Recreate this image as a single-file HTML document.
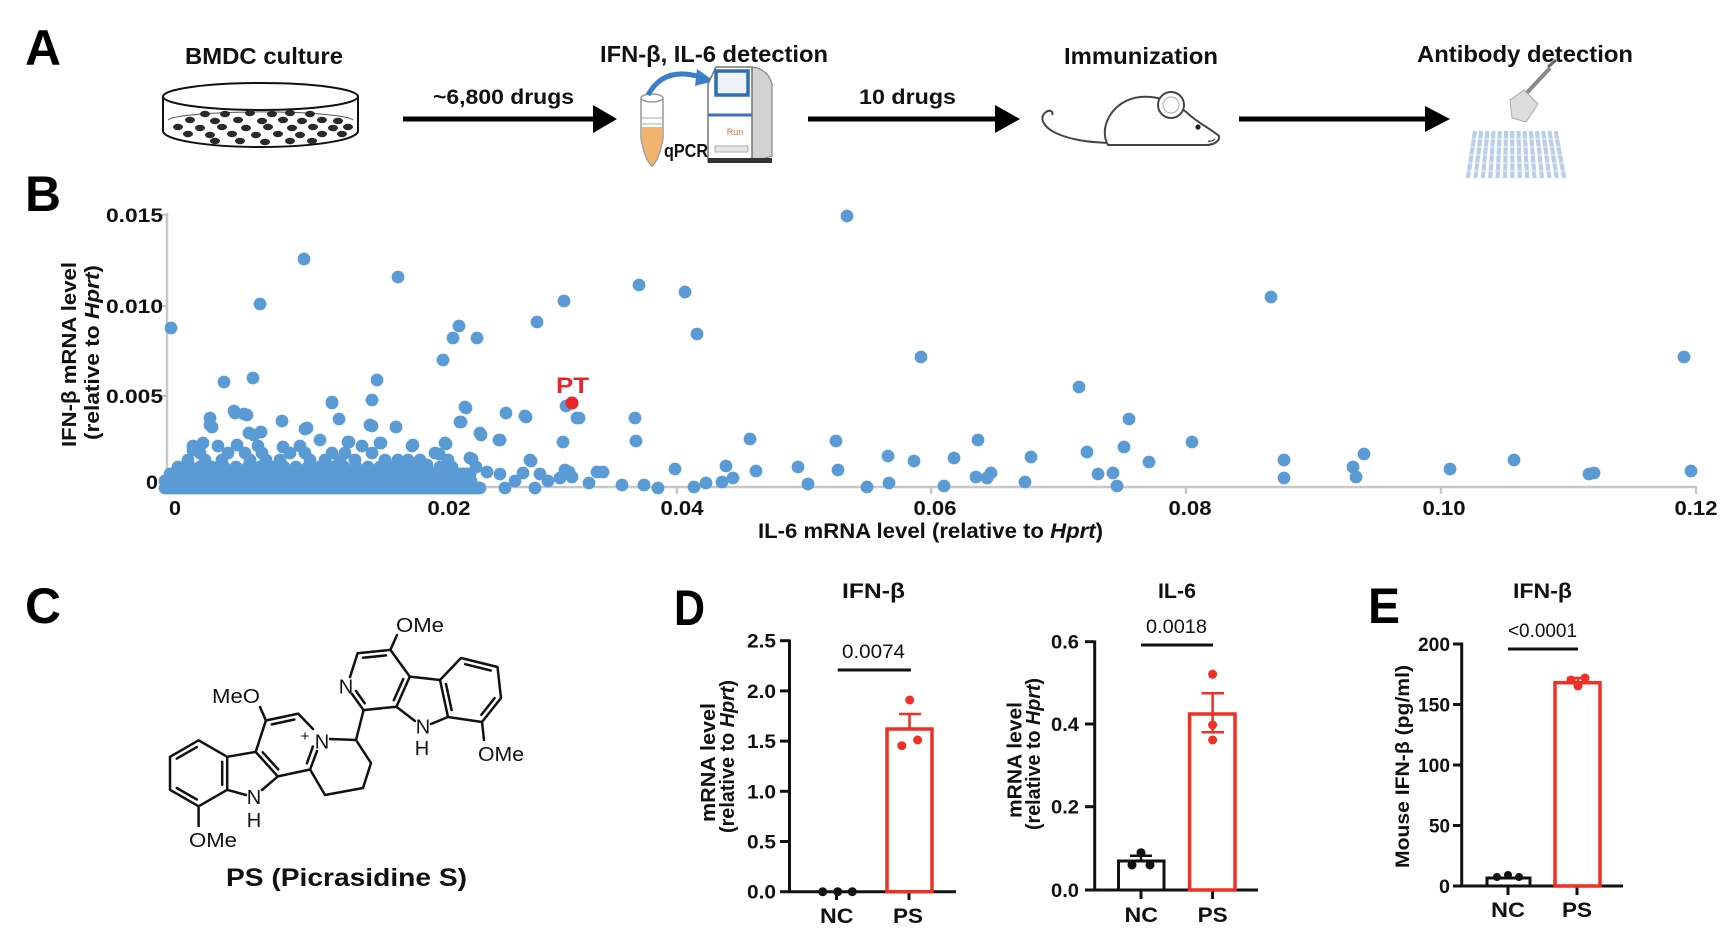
<!DOCTYPE html>
<html><head><meta charset="utf-8"><style>
html,body{margin:0;padding:0;background:#fff;}
svg{display:block;}
text{font-family:"Liberation Sans",Arial,sans-serif;}
.b{font-weight:bold;}
</style></head><body>
<svg width="1731" height="929" viewBox="0 0 1731 929" xmlns="http://www.w3.org/2000/svg">
<rect width="1731" height="929" fill="#fff"/>

<!-- ===== Panel letters ===== -->
<g class="b" font-size="50" fill="#000">
<text x="25" y="65" textLength="36" lengthAdjust="spacingAndGlyphs">A</text>
<text x="25" y="211" textLength="36" lengthAdjust="spacingAndGlyphs">B</text>
<text x="25" y="623" textLength="36" lengthAdjust="spacingAndGlyphs">C</text>
<text x="674" y="625" textLength="31" lengthAdjust="spacingAndGlyphs">D</text>
<text x="1368" y="623" textLength="32" lengthAdjust="spacingAndGlyphs">E</text>
</g>

<!-- ===== Panel A ===== -->
<g class="b" font-size="23" fill="#111">
<text x="185" y="64" textLength="158" lengthAdjust="spacingAndGlyphs">BMDC culture</text>
<text x="600" y="62" textLength="228" lengthAdjust="spacingAndGlyphs">IFN-β, IL-6 detection</text>
<text x="1064" y="64" textLength="154" lengthAdjust="spacingAndGlyphs">Immunization</text>
<text x="1417" y="62" textLength="216" lengthAdjust="spacingAndGlyphs">Antibody detection</text>
</g>
<g class="b" font-size="21" fill="#111">
<text x="433" y="104" textLength="141" lengthAdjust="spacingAndGlyphs">~6,800 drugs</text>
<text x="859" y="104" textLength="97" lengthAdjust="spacingAndGlyphs">10 drugs</text>
</g>
<!-- arrows -->
<g stroke="#000" stroke-width="5">
<line x1="403" y1="119" x2="597" y2="119"/>
<line x1="808" y1="119" x2="997" y2="119"/>
<line x1="1239" y1="119" x2="1427" y2="119"/>
</g>
<g fill="#000">
<polygon points="593,105 617,119 593,133"/>
<polygon points="995,105 1020,119 995,133"/>
<polygon points="1425,106 1450,119 1425,132"/>
</g>
<!-- petri dish -->
<g fill="none" stroke="#111" stroke-width="2">
<ellipse cx="260.5" cy="96.5" rx="97.5" ry="13.5" fill="#fff"/>
<line x1="163" y1="96.5" x2="163" y2="131"/>
<line x1="358" y1="96.5" x2="358" y2="131"/>
<path d="M163 131 A97.5 16 0 0 0 358 131"/>
<path d="M168 120 A93 9 0 0 1 353 120" stroke-width="1" stroke="#555"/>
</g>
<g fill="#2a2a2a">
<ellipse cx="205" cy="114" rx="5" ry="3.2"/><ellipse cx="225" cy="114" rx="5" ry="3.2"/><ellipse cx="250" cy="113" rx="5" ry="3.2"/><ellipse cx="272" cy="114" rx="5" ry="3.2"/><ellipse cx="290" cy="113" rx="5" ry="3.2"/><ellipse cx="310" cy="114" rx="5" ry="3.2"/>
<ellipse cx="190" cy="120" rx="5" ry="3.2"/><ellipse cx="215" cy="121" rx="5" ry="3.2"/><ellipse cx="238" cy="120" rx="5" ry="3.2"/><ellipse cx="262" cy="121" rx="5" ry="3.2"/><ellipse cx="283" cy="120" rx="5" ry="3.2"/><ellipse cx="302" cy="121" rx="5" ry="3.2"/><ellipse cx="322" cy="120" rx="5" ry="3.2"/><ellipse cx="338" cy="121" rx="5" ry="3.2"/>
<ellipse cx="178" cy="127" rx="5" ry="3.2"/><ellipse cx="200" cy="128" rx="5" ry="3.2"/><ellipse cx="222" cy="127" rx="5" ry="3.2"/><ellipse cx="246" cy="128" rx="5" ry="3.2"/><ellipse cx="268" cy="127" rx="5" ry="3.2"/><ellipse cx="292" cy="128" rx="5" ry="3.2"/><ellipse cx="313" cy="127" rx="5" ry="3.2"/><ellipse cx="333" cy="128" rx="5" ry="3.2"/><ellipse cx="348" cy="127" rx="5" ry="3.2"/>
<ellipse cx="188" cy="134" rx="5" ry="3.2"/><ellipse cx="210" cy="135" rx="5" ry="3.2"/><ellipse cx="232" cy="134" rx="5" ry="3.2"/><ellipse cx="256" cy="135" rx="5" ry="3.2"/><ellipse cx="278" cy="134" rx="5" ry="3.2"/><ellipse cx="300" cy="135" rx="5" ry="3.2"/><ellipse cx="322" cy="134" rx="5" ry="3.2"/><ellipse cx="342" cy="134" rx="5" ry="3.2"/>
<ellipse cx="215" cy="141" rx="5" ry="3.2"/><ellipse cx="240" cy="141" rx="5" ry="3.2"/><ellipse cx="265" cy="142" rx="5" ry="3.2"/><ellipse cx="290" cy="141" rx="5" ry="3.2"/><ellipse cx="312" cy="141" rx="5" ry="3.2"/>
</g>
<!-- tube -->
<path d="M641 98 L641 138 Q645 160 652 166 Q659 160 663 138 L663 98" fill="#fff" stroke="#999" stroke-width="1.5"/>
<path d="M641.8 127 L662.2 127 L662.2 138 Q659 159 652 165 Q645 159 641.8 138 Z" fill="#f2b36f"/>
<line x1="641" y1="118" x2="663" y2="118" stroke="#aaa" stroke-width="1"/>
<line x1="641" y1="124" x2="663" y2="124" stroke="#aaa" stroke-width="1"/>
<ellipse cx="652" cy="98" rx="11" ry="4" fill="#fff" stroke="#999" stroke-width="1.5"/>
<path d="M648 95 Q664 66 700 77" fill="none" stroke="#3b7fca" stroke-width="5"/>
<polygon points="697,69 714,81 695,86" fill="#3b7fca"/>
<!-- machine -->
<path d="M752 67 Q768 69 772 84 L772 156 L752 162 Z" fill="#d2d2d2" stroke="#888" stroke-width="1.2"/>
<path d="M708 84 L716 67 L752 67 L752 162 L708 162 Z" fill="#fff" stroke="#777" stroke-width="1.5"/>
<rect x="716" y="71" width="32" height="24" fill="#eef3fa" stroke="#2f6db5" stroke-width="3.5"/>
<line x1="708" y1="115" x2="752" y2="115" stroke="#3c70b8" stroke-width="3"/>
<text x="735" y="135" font-size="9" fill="#e07030" text-anchor="middle">Run</text>
<rect x="715" y="146" width="33" height="6" fill="#e6e6e6" stroke="#aaa" stroke-width="1"/>
<rect x="708" y="158" width="64" height="5" fill="#333"/>
<text x="664" y="157" class="b" font-size="18" fill="#111" textLength="44" lengthAdjust="spacingAndGlyphs">qPCR</text>
<!-- mouse -->
<g fill="#fff" stroke="#444" stroke-width="2">
<path d="M1108 143 C1088 142 1072 140 1058 134 C1044 128 1038 118 1046 112 C1050 109 1054 112 1052 115" fill="none"/>
<path d="M1108 145 C1098 128 1112 100 1140 97 C1160 95 1178 104 1192 117 C1202 125 1212 130 1219 136 C1220 141 1214 145 1206 145 Z"/>
<circle cx="1171" cy="105" r="13"/>
<circle cx="1171" cy="105" r="8" stroke="#bbb" stroke-width="1.2"/>
<path d="M1208 141 q4 1 7 -2" fill="none" stroke-width="1.2"/>
</g>
<circle cx="1198" cy="127" r="2.6" fill="#222"/>
<!-- pipette -->
<line x1="1522" y1="98" x2="1550" y2="68" stroke="#8a8a8a" stroke-width="4"/>
<line x1="1548" y1="67" x2="1556" y2="60" stroke="#666" stroke-width="3"/>
<polygon points="1510,100 1524,90 1538,104 1526,122 1512,118" fill="#dcdcdc" stroke="#aaa" stroke-width="1"/>
<!-- plate -->
<g stroke="#b7cfea" stroke-width="4.2">
<line x1="1475" y1="131" x2="1468" y2="178"/><line x1="1481.2" y1="131" x2="1475.4" y2="178"/><line x1="1487.4" y1="131" x2="1482.8" y2="178"/><line x1="1493.6" y1="131" x2="1490.2" y2="178"/><line x1="1499.8" y1="131" x2="1497.6" y2="178"/><line x1="1506" y1="131" x2="1505" y2="178"/><line x1="1512.2" y1="131" x2="1512.4" y2="178"/><line x1="1518.4" y1="131" x2="1519.8" y2="178"/><line x1="1524.6" y1="131" x2="1527.2" y2="178"/><line x1="1530.8" y1="131" x2="1534.6" y2="178"/><line x1="1537" y1="131" x2="1542" y2="178"/><line x1="1543.2" y1="131" x2="1549.4" y2="178"/><line x1="1549.4" y1="131" x2="1556.8" y2="178"/><line x1="1555.6" y1="131" x2="1564.2" y2="178"/>
</g>
<g stroke="#fff" stroke-width="1.2" opacity="0.6">
<line x1="1460" y1="139" x2="1570" y2="139"/><line x1="1460" y1="147" x2="1570" y2="147"/><line x1="1460" y1="155" x2="1570" y2="155"/><line x1="1460" y1="163" x2="1570" y2="163"/><line x1="1460" y1="171" x2="1570" y2="171"/>
</g>

<!-- ===== Panel B ===== -->
<g stroke="#c8c8c8" stroke-width="2.5" fill="none">
<line x1="167" y1="213" x2="167" y2="488"/>
<line x1="166" y1="487" x2="1697" y2="487"/>
<line x1="160" y1="215" x2="167" y2="215"/><line x1="160" y1="306" x2="167" y2="306"/><line x1="160" y1="396" x2="167" y2="396"/><line x1="160" y1="487" x2="167" y2="487"/>
<line x1="422" y1="487" x2="422" y2="494"/><line x1="677" y1="487" x2="677" y2="494"/><line x1="931" y1="487" x2="931" y2="494"/><line x1="1186" y1="487" x2="1186" y2="494"/><line x1="1441" y1="487" x2="1441" y2="494"/><line x1="1696" y1="487" x2="1696" y2="494"/>
</g>
<g class="b" font-size="19" fill="#111">
<text x="106" y="222" textLength="57" lengthAdjust="spacingAndGlyphs">0.015</text>
<text x="106" y="313" textLength="57" lengthAdjust="spacingAndGlyphs">0.010</text>
<text x="106" y="403" textLength="57" lengthAdjust="spacingAndGlyphs">0.005</text>
<text x="146" y="489" textLength="12" lengthAdjust="spacingAndGlyphs">0</text>
</g>
<g class="b" font-size="20" fill="#111">
<text x="169" y="515" textLength="12" lengthAdjust="spacingAndGlyphs">0</text>
<text x="427.5" y="515" textLength="43" lengthAdjust="spacingAndGlyphs">0.02</text>
<text x="660.5" y="515" textLength="43" lengthAdjust="spacingAndGlyphs">0.04</text>
<text x="913.5" y="515" textLength="43" lengthAdjust="spacingAndGlyphs">0.06</text>
<text x="1168.5" y="515" textLength="43" lengthAdjust="spacingAndGlyphs">0.08</text>
<text x="1422.5" y="515" textLength="43" lengthAdjust="spacingAndGlyphs">0.10</text>
<text x="1674.5" y="515" textLength="43" lengthAdjust="spacingAndGlyphs">0.12</text>
</g>
<text x="758" y="538" class="b" font-size="21" fill="#111" textLength="345" lengthAdjust="spacingAndGlyphs">IL-6 mRNA level (relative to <tspan font-style="italic">Hprt</tspan>)</text>
<g class="b" font-size="20" fill="#111">
<text transform="translate(76,354.5) rotate(-90)" x="-92.5" y="0" textLength="185" lengthAdjust="spacingAndGlyphs">IFN-β mRNA level</text>
<text transform="translate(99,352.5) rotate(-90)" x="-87.5" y="0" textLength="175" lengthAdjust="spacingAndGlyphs">(relative to <tspan font-style="italic">Hprt</tspan>)</text>
</g>
<!-- scatter points -->
<path fill="none" stroke="#5b9bd5" stroke-width="12.8" stroke-linecap="round" d="
M847 216h0M304 259h0M398 277h0M260 304h0M171 328h0M564 301h0M639 285h0M685 292h0M697 334h0M537 322h0M459 326h0M453 338h0M477 338h0M443 360h0M224 382h0M253 378h0M377 380h0M332 402h0M372 400h0M466 408h0M566 406h0M579 418h0M506 413h0M526 417h0M635 418h0M636 441h0M563 442h0M500 440h0M481 435h0M461 422h0M396 427h0M381 443h0M372 426h0M339 419h0M307 428h0M282 421h0M234 411h0M244 414h0M210 418h0M212 427h0M261 432h0M254 435h0M750 439h0M836 441h0M675 469h0M726 466h0M756 471h0M798 467h0M838 470h0M808 484h0M867 487h0M603 472h0M569 472h0M531 461h0M472 459h0M412 446h0M446 444h0M439 454h0M349 442h0
M210 425h0M235 413h0M247 415h0M305 429h0M332 403h0M370 425h0M249 433h0M193 450h0M203 443h0M237 445h0M283 447h0M320 440h0M348 442h0M380 443h0M413 445h0M445 443h0M435 453h0M398 460h0M427 465h0M470 458h0M480 433h0M499 440h0M506 413h0M525 416h0M465 407h0M460 422h0M530 460h0M563 442h0M577 418h0M565 470h0M487 472h0M523 473h0M560 478h0M597 472h0
M1271 297h0M921 357h0M1684 357h0M1079 387h0M1129 419h0M978 440h0M1192 442h0M888 456h0M914 461h0M954 458h0M1031 457h0M1087 452h0M1124 447h0M1149 462h0M1284 460h0M1364 454h0M1353 467h0M1450 469h0M1514 460h0M1589 474h0M1594 473h0M1691 471h0M889 483h0M944 486h0M976 477h0M991 473h0M987 478h0M1025 482h0M1098 474h0M1113 473h0M1117 486h0M1284 478h0M1356 477h0
M589 483h0M572 477h0M622 485h0M644 485h0M658 488h0M694 487h0M706 483h0M722 482h0M733 478h0
M193 446h0M218 446h0M258 446h0M300 446h0M362 446h0
M200 453h0M228 453h0M245 453h0M262 453h0M290 453h0M305 453h0M332 453h0M345 453h0M372 453h0
M188 460h0M205 460h0M222 460h0M250 460h0M266 460h0M280 460h0M310 460h0M325 460h0M340 460h0M355 460h0M385 460h0M408 460h0M420 460h0M448 460h0
M178 467h0M190 467h0M200 467h0M212 467h0M224 467h0M236 467h0M248 467h0M260 467h0M272 467h0M284 467h0M296 467h0M308 467h0M320 467h0M332 467h0M344 467h0M356 467h0M368 467h0M380 467h0M392 467h0M404 467h0M416 467h0M440 467h0M452 467h0M476 467h0
M170 474h300M500 474h0M540 474h0
M165 481h306M515 481h0M548 481h0
M165 488h315M505 488h0M535 488h0"/>
<circle cx="572" cy="403" r="6.5" fill="#e8262a"/>
<text x="556" y="393" class="b" font-size="22" fill="#e8262a" textLength="33" lengthAdjust="spacingAndGlyphs">PT</text>

<!-- ===== Panel C: molecule ===== -->
<g fill="none" stroke="#111" stroke-width="2.5" stroke-linejoin="round" stroke-linecap="round">
<path d="M170 756.8 L198.6 740.3 L227.2 756.8 L227.2 789.8 L198.6 806.3 L170 789.8 Z"/>
<path d="M176.8 758.6 L196.8 747.1 M222.2 761.8 L222.2 784.8 M196.8 799.5 L176.8 788"/>
<path d="M198.6 806.3 L198.6 826"/>
<path d="M227.2 756.8 L255.7 751.9 M277.8 776.4 L262 790 M227.2 789.8 L246 795"/>
<path d="M255.7 751.9 L265.9 720.5 L298.2 713.6 L313 729 M317 751 L310.1 769.5 L277.8 776.4 L255.7 751.9"/>
<path d="M271.8 724.4 L294.4 719.5 M312.9 746.5 L306.9 763.3 M278.2 769.4 L262.7 752.3"/>
<path d="M265.9 720.5 L260 707"/>
<path d="M330 739 L356 740 L371 763 L363 788 L325 795 L310.1 769.5"/>
<path d="M356 740 L363.6 710.1"/>
<path d="M363.6 710.1 L352 694 M350 677 L357.6 653.3 L390.4 649.9 L409.8 676.6 L396.4 706.7 L363.6 710.1"/>
<path d="M363 657.8 L386 655.4 M364.7 703.2 L356 691 M403.2 679.1 L393.8 700.2"/>
<path d="M390.4 649.9 L397 635"/>
<path d="M409.8 676.6 L440 680 M448 717 L431 724 M396.4 706.7 L415 721"/>
<path d="M440 680 L461 658 L497.5 667 L501 698 L482 722 L448 717 Z"/>
<path d="M465.2 664.2 L490.7 670.5 M494.6 698.1 L481.3 714.9 M451.6 710 L446 684.1"/>
<path d="M482 722 L484 740"/>
</g>
<g font-size="20" fill="#111">
<text x="189" y="847" textLength="48" lengthAdjust="spacingAndGlyphs">OMe</text>
<text x="212" y="703" textLength="48" lengthAdjust="spacingAndGlyphs">MeO</text>
<text x="396" y="632" textLength="48" lengthAdjust="spacingAndGlyphs">OMe</text>
<text x="478" y="761" textLength="46" lengthAdjust="spacingAndGlyphs">OMe</text>
<text x="254" y="804" text-anchor="middle">N</text>
<text x="254" y="827" text-anchor="middle">H</text>
<text x="322" y="748.5" text-anchor="middle">N</text>
<text x="346" y="693.5" text-anchor="middle">N</text>
<text x="423" y="733.5" text-anchor="middle">N</text>
<text x="422" y="755" text-anchor="middle">H</text>
<text x="305" y="741" text-anchor="middle" font-size="15">+</text>
</g>
<text x="226" y="886" class="b" font-size="25" fill="#111" textLength="241" lengthAdjust="spacingAndGlyphs">PS (Picrasidine S)</text>

<!-- ===== Panel D ===== -->
<g class="b" font-size="21" fill="#111">
<text x="842" y="598" textLength="63" lengthAdjust="spacingAndGlyphs">IFN-β</text>
<text x="1158" y="598" textLength="38" lengthAdjust="spacingAndGlyphs">IL-6</text>
<text x="1513" y="598" textLength="59" lengthAdjust="spacingAndGlyphs">IFN-β</text>
</g>
<g font-size="19" fill="#111">
<text x="842" y="658" textLength="63" lengthAdjust="spacingAndGlyphs">0.0074</text>
<text x="1146" y="633" textLength="61" lengthAdjust="spacingAndGlyphs">0.0018</text>
<text x="1508" y="637" textLength="69" lengthAdjust="spacingAndGlyphs">&lt;0.0001</text>
</g>
<g stroke="#111" stroke-width="3">
<line x1="837.7" y1="670" x2="910.9" y2="670"/>
<line x1="1141" y1="645" x2="1213" y2="645"/>
<line x1="1508" y1="649" x2="1578" y2="649"/>
</g>
<!-- D1 axes -->
<g stroke="#111" stroke-width="3" fill="none">
<line x1="789.5" y1="639.5" x2="789.5" y2="893"/>
<line x1="780" y1="891.7" x2="956" y2="891.7"/>
<line x1="780" y1="640.7" x2="789.5" y2="640.7"/><line x1="780" y1="690.9" x2="789.5" y2="690.9"/><line x1="780" y1="741.1" x2="789.5" y2="741.1"/><line x1="780" y1="791.3" x2="789.5" y2="791.3"/><line x1="780" y1="841.5" x2="789.5" y2="841.5"/>
<line x1="836.5" y1="891.7" x2="836.5" y2="900"/><line x1="909" y1="891.7" x2="909" y2="900"/>
</g>
<g class="b" font-size="19" fill="#111">
<text x="747" y="647.7" textLength="29" lengthAdjust="spacingAndGlyphs">2.5</text>
<text x="747" y="697.9" textLength="29" lengthAdjust="spacingAndGlyphs">2.0</text>
<text x="747" y="748.1" textLength="29" lengthAdjust="spacingAndGlyphs">1.5</text>
<text x="747" y="798.3" textLength="29" lengthAdjust="spacingAndGlyphs">1.0</text>
<text x="747" y="848.5" textLength="29" lengthAdjust="spacingAndGlyphs">0.5</text>
<text x="747" y="898.7" textLength="29" lengthAdjust="spacingAndGlyphs">0.0</text>
</g>
<rect x="887" y="729" width="45" height="162.7" fill="#fff" stroke="#ee3124" stroke-width="3.5"/>
<g stroke="#ee3124" stroke-width="2.5">
<line x1="909.5" y1="729" x2="909.5" y2="714"/><line x1="899" y1="714" x2="921" y2="714"/>
</g>
<g fill="#ee3124"><circle cx="909.7" cy="700" r="4.5"/><circle cx="901.8" cy="745.7" r="4.5"/><circle cx="917.6" cy="740" r="4.5"/></g>
<g fill="#111"><circle cx="822.7" cy="891.7" r="4.5"/><circle cx="837.7" cy="891.7" r="4.5"/><circle cx="852.3" cy="891.7" r="4.5"/></g>
<g class="b" font-size="21" fill="#111">
<text x="820" y="923" textLength="33.5" lengthAdjust="spacingAndGlyphs">NC</text>
<text x="893" y="923" textLength="30" lengthAdjust="spacingAndGlyphs">PS</text>
<text x="1124.5" y="922" textLength="33.5" lengthAdjust="spacingAndGlyphs">NC</text>
<text x="1197.6" y="922" textLength="30" lengthAdjust="spacingAndGlyphs">PS</text>
<text x="1491" y="917" textLength="34" lengthAdjust="spacingAndGlyphs">NC</text>
<text x="1562" y="917" textLength="30" lengthAdjust="spacingAndGlyphs">PS</text>
</g>
<g class="b" font-size="20" fill="#111">
<text transform="translate(715,762.5) rotate(-90)" x="-59.5" y="0" textLength="119" lengthAdjust="spacingAndGlyphs">mRNA level</text>
<text transform="translate(734,756.5) rotate(-90)" x="-76.5" y="0" textLength="153" lengthAdjust="spacingAndGlyphs">(relative to <tspan font-style="italic">Hprt</tspan>)</text>
<text transform="translate(1021.5,760) rotate(-90)" x="-58" y="0" textLength="116" lengthAdjust="spacingAndGlyphs">mRNA level</text>
<text transform="translate(1040,754) rotate(-90)" x="-76" y="0" textLength="152" lengthAdjust="spacingAndGlyphs">(relative to <tspan font-style="italic">Hprt</tspan>)</text>
<text transform="translate(1409,766.5) rotate(-90)" x="-101.5" y="0" font-size="19" textLength="203" lengthAdjust="spacingAndGlyphs">Mouse IFN-β (pg/ml)</text>
</g>
<!-- D2 axes -->
<g stroke="#111" stroke-width="3" fill="none">
<line x1="1094.7" y1="640.5" x2="1094.7" y2="891.5"/>
<line x1="1085" y1="890" x2="1258" y2="890"/>
<line x1="1085" y1="641.7" x2="1094.7" y2="641.7"/><line x1="1085" y1="724" x2="1094.7" y2="724"/><line x1="1085" y1="806.7" x2="1094.7" y2="806.7"/>
<line x1="1141" y1="890" x2="1141" y2="899"/><line x1="1212.6" y1="890" x2="1212.6" y2="899"/>
</g>
<g class="b" font-size="19" fill="#111">
<text x="1051" y="648.7" textLength="28" lengthAdjust="spacingAndGlyphs">0.6</text>
<text x="1051" y="731" textLength="28" lengthAdjust="spacingAndGlyphs">0.4</text>
<text x="1051" y="813.7" textLength="28" lengthAdjust="spacingAndGlyphs">0.2</text>
<text x="1051" y="897" textLength="28" lengthAdjust="spacingAndGlyphs">0.0</text>
</g>
<rect x="1118.5" y="861" width="45.5" height="29" fill="#fff" stroke="#111" stroke-width="3"/>
<g stroke="#111" stroke-width="2.5"><line x1="1141" y1="861" x2="1141" y2="855.7"/><line x1="1130" y1="855.7" x2="1152" y2="855.7"/></g>
<g fill="#111"><circle cx="1141" cy="852.7" r="4.5"/><circle cx="1132" cy="865" r="4.5"/><circle cx="1150" cy="865" r="4.5"/></g>
<rect x="1189.6" y="714" width="45.4" height="176" fill="#fff" stroke="#ee3124" stroke-width="3.5"/>
<g stroke="#ee3124" stroke-width="2.5"><line x1="1212.6" y1="693.3" x2="1212.6" y2="732.3"/><line x1="1201.5" y1="693.3" x2="1224" y2="693.3"/><line x1="1201.5" y1="732.3" x2="1224" y2="732.3"/></g>
<g fill="#ee3124"><circle cx="1212.6" cy="674.3" r="4.5"/><circle cx="1212.6" cy="725" r="4.5"/><circle cx="1212.6" cy="740" r="4.5"/></g>

<!-- ===== Panel E ===== -->
<g stroke="#111" stroke-width="3" fill="none">
<line x1="1461.7" y1="642.5" x2="1461.7" y2="887.5"/>
<line x1="1453" y1="886" x2="1623" y2="886"/>
<line x1="1453" y1="644" x2="1461.7" y2="644"/><line x1="1453" y1="704.5" x2="1461.7" y2="704.5"/><line x1="1453" y1="765" x2="1461.7" y2="765"/><line x1="1453" y1="825.5" x2="1461.7" y2="825.5"/>
<line x1="1508" y1="886" x2="1508" y2="895"/><line x1="1577" y1="886" x2="1577" y2="895"/>
</g>
<g class="b" font-size="19" fill="#111">
<text x="1418" y="651" textLength="32" lengthAdjust="spacingAndGlyphs">200</text>
<text x="1418" y="711.5" textLength="32" lengthAdjust="spacingAndGlyphs">150</text>
<text x="1418" y="772" textLength="32" lengthAdjust="spacingAndGlyphs">100</text>
<text x="1429" y="832.5" textLength="21" lengthAdjust="spacingAndGlyphs">50</text>
<text x="1439" y="893" textLength="11" lengthAdjust="spacingAndGlyphs">0</text>
</g>
<rect x="1487" y="878" width="43" height="8" fill="#fff" stroke="#111" stroke-width="3"/>
<g fill="#111"><circle cx="1497" cy="877" r="4"/><circle cx="1508" cy="875" r="4"/><circle cx="1519" cy="877" r="4"/></g>
<rect x="1555" y="682.7" width="45" height="203.3" fill="#fff" stroke="#ee3124" stroke-width="3.5"/>
<g stroke="#ee3124" stroke-width="2.5"><line x1="1567" y1="678" x2="1589" y2="678"/><line x1="1578" y1="678" x2="1578" y2="687"/></g>
<g fill="#ee3124"><circle cx="1571" cy="680" r="4.5"/><circle cx="1585" cy="678" r="4.5"/><circle cx="1578" cy="686" r="4.5"/></g>
</svg>
</body></html>
